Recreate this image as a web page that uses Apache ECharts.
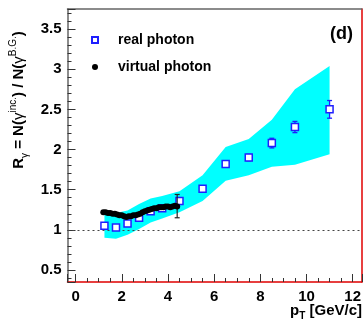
<!DOCTYPE html>
<html><head><meta charset="utf-8">
<script src="https://cdn.jsdelivr.net/npm/echarts@6/dist/echarts.min.js"></script>
<style>html,body{margin:0;padding:0;background:#fff}#c{width:364px;height:330px}</style>
</head><body><div id="c"></div>
<script>
// real photon (open blue squares)
const realX   = [1.25, 1.75, 2.25, 2.75, 3.25, 3.75, 4.5, 5.5, 6.5, 7.5, 8.5, 9.5, 11.0];
const realY   = [1.05, 1.03, 1.08, 1.15, 1.23, 1.27, 1.36, 1.51, 1.82, 1.90, 2.08, 2.28, 2.50];
const realErr = [0.01, 0.01, 0.01, 0.01, 0.01, 0.01, 0.02, 0.02, 0.03, 0.04, 0.06, 0.07, 0.11];
// virtual photon (black dots)
const virtX = [1.2,1.3,1.4,1.5,1.6,1.7,1.8,1.9,2.0,2.1,2.2,2.3,2.4,2.5,2.6,2.7,2.8,2.9,3.0,3.1,3.2,3.3,3.4,3.5,3.6,3.7,3.8,3.9,4.0,4.1,4.2,4.3,4.4];
const virtY = [1.22,1.22,1.21,1.21,1.20,1.20,1.19,1.18,1.18,1.17,1.16,1.17,1.17,1.18,1.18,1.19,1.20,1.22,1.23,1.24,1.25,1.26,1.27,1.27,1.28,1.28,1.28,1.29,1.29,1.28,1.29,1.30,1.29];
const virtErrX  = [4.4];
const virtErrLo = [1.15];
const virtErrHi = [1.44];
// systematic band (cyan)
const bandX  = [1.25, 1.75, 2.25, 2.75, 3.25, 3.75, 4.5, 5.5, 6.5, 7.5, 8.5, 9.5, 11.0];
const bandHi = [1.24, 1.21, 1.24, 1.32, 1.39, 1.42, 1.48, 1.68, 2.03, 2.13, 2.37, 2.75, 3.04];
const bandLo = [0.90, 0.89, 0.94, 1.01, 1.09, 1.14, 1.22, 1.36, 1.61, 1.68, 1.785, 1.81, 1.94];
const refLine = 1;

const FONT = "'Liberation Sans', Arial, Helvetica, sans-serif";
const BLUE = '#1f1fff';

const chart = echarts.init(document.getElementById('c'), null, {renderer: 'canvas'});
const option = {
  animation: false,
  backgroundColor: '#fff',
  grid: {left: 67.5, right: 1.5, top: 9, bottom: 48, containLabel: false},
  xAxis: [{
    type: 'value', min: -0.35, max: 12.4, splitNumber: 6, position: 'bottom',
    axisLine: {show: true, onZero: false, lineStyle: {color: '#e00000', width: 1.5}},
    axisTick: {show: true, inside: true, length: 8, lineStyle: {color: '#333'}},
    minorTick: {show: true, splitNumber: 4, length: 4, lineStyle: {color: '#333'}},
    splitLine: {show: false},
    axisLabel: {showMinLabel: false, showMaxLabel: false, margin: 7, color: '#000', fontFamily: FONT, fontWeight: 'bold', fontSize: 15}
  }, {
    type: 'value', min: -0.35, max: 12.4, position: 'top',
    axisLine: {show: true, onZero: false, lineStyle: {color: '#666', width: 1.5}},
    axisTick: {show: false}, axisLabel: {show: false}, splitLine: {show: false}
  }],
  yAxis: [{
    type: 'value', min: 0.35, max: 3.75, splitNumber: 7,
    axisLine: {show: true, onZero: false, lineStyle: {color: '#666', width: 1.5}},
    axisTick: {show: true, inside: true, length: 8, lineStyle: {color: '#333'}},
    minorTick: {show: true, splitNumber: 5, length: 4, lineStyle: {color: '#333'}},
    splitLine: {show: false},
    axisLabel: {showMinLabel: false, showMaxLabel: false, margin: 6, color: '#000', fontFamily: FONT, fontWeight: 'bold', fontSize: 15}
  }, {
    type: 'value', min: 0.35, max: 3.75, position: 'right',
    axisLine: {show: true, onZero: false, lineStyle: {color: '#e00000', width: 1.5}},
    axisTick: {show: false}, axisLabel: {show: false}, splitLine: {show: false}
  }],
  legend: {
    orient: 'vertical', left: 86, top: 27, itemWidth: 6, itemHeight: 6, itemGap: 11,
    textStyle: {fontFamily: FONT, fontWeight: 'bold', fontSize: 14, color: '#000', lineHeight: 16, padding: [0, 0, 0, 15]},
    data: ['real photon', 'virtual photon']
  },
  graphic: [
    {type: 'text', right: 11, top: 25, style: {text: '(d)', font: "bold 18px " + FONT, fill: '#000'}},
    {type: 'text', x: 19, y: 100, rotation: Math.PI / 2,
     style: {
       text: '{m|R}{sb|γ}{m| = N(}{g|γ}{sp|inc.}{m|) / N(}{g|γ}{sp|B.G.}{m|)}',
       align: 'center', verticalAlign: 'middle',
       rich: {
         m: {fontFamily: FONT, fontWeight: 'bold', fontSize: 15, fill: '#000', lineHeight: 22, verticalAlign: 'middle'},
         g: {fontFamily: FONT, fontSize: 15, fill: '#000', lineHeight: 22, verticalAlign: 'middle'},
         sb: {fontFamily: FONT, fontSize: 10, fill: '#000', verticalAlign: 'bottom', lineHeight: 22},
         sp: {fontFamily: FONT, fontSize: 10, fill: '#000', verticalAlign: 'top', lineHeight: 22}
       }
     }},
    {type: 'text', right: 2, top: 303,
     style: {
       text: '{m|p}{sb|T}{m| [GeV/c]}',
       rich: {
         m: {fontFamily: FONT, fontWeight: 'bold', fontSize: 15, fill: '#000', lineHeight: 22, verticalAlign: 'middle'},
         sb: {fontFamily: FONT, fontWeight: 'bold', fontSize: 10, fill: '#000', lineHeight: 22, verticalAlign: 'bottom'}
       }
     }}
  ],
  series: [
    {
      type: 'custom', name: 'band', z: 1, silent: true,
      data: [[bandX[0], bandHi[0]]],
      renderItem: function (params, api) {
        const pts = [];
        for (let i = 0; i < bandX.length; i++) pts.push(api.coord([bandX[i], bandHi[i]]));
        for (let i = bandX.length - 1; i >= 0; i--) pts.push(api.coord([bandX[i], bandLo[i]]));
        return {type: 'polygon', shape: {points: pts}, style: {fill: '#00ffff', stroke: null}};
      },
      markLine: {
        silent: true, symbol: 'none', z: 2,
        label: {show: false},
        lineStyle: {type: [2, 3], color: '#444', width: 1},
        data: [{yAxis: refLine}]
      }
    },
    {
      type: 'custom', name: 'realErr', z: 3, silent: true,
      data: realX.map((x, i) => [x, realY[i] - realErr[i], realY[i] + realErr[i]]),
      encode: {x: 0, y: [1, 2]},
      renderItem: function (params, api) {
        const x = api.value(0);
        const lo = api.coord([x, api.value(1)]);
        const hi = api.coord([x, api.value(2)]);
        const w = 2.5;
        const st = {stroke: BLUE, lineWidth: 1.3};
        return {type: 'group', children: [
          {type: 'line', shape: {x1: lo[0], y1: lo[1], x2: hi[0], y2: hi[1]}, style: st},
          {type: 'line', shape: {x1: lo[0] - w, y1: lo[1], x2: lo[0] + w, y2: lo[1]}, style: st},
          {type: 'line', shape: {x1: hi[0] - w, y1: hi[1], x2: hi[0] + w, y2: hi[1]}, style: st}
        ]};
      }
    },
    {
      type: 'scatter', name: 'real photon', z: 4, symbol: 'rect', symbolSize: 7,
      itemStyle: {color: '#fff', borderColor: BLUE, borderWidth: 1.5, opacity: 1},
      data: realX.map((x, i) => [x, realY[i]])
    },
    {
      type: 'scatter', name: 'virtual photon', z: 5, symbol: 'circle', symbolSize: 6,
      itemStyle: {color: '#000', opacity: 1},
      data: virtX.map((x, i) => [x, virtY[i]])
    },
    {
      type: 'custom', name: 'virtErr', z: 5, silent: true,
      data: virtErrX.map((x, i) => [x, virtErrLo[i], virtErrHi[i]]),
      encode: {x: 0, y: [1, 2]},
      renderItem: function (params, api) {
        const x = api.value(0);
        const lo = api.coord([x, api.value(1)]);
        const hi = api.coord([x, api.value(2)]);
        const w = 2.5;
        const st = {stroke: '#222', lineWidth: 1.2};
        return {type: 'group', children: [
          {type: 'line', shape: {x1: lo[0], y1: lo[1], x2: hi[0], y2: hi[1]}, style: st},
          {type: 'line', shape: {x1: lo[0] - w, y1: lo[1], x2: lo[0] + w, y2: lo[1]}, style: st},
          {type: 'line', shape: {x1: hi[0] - w, y1: hi[1], x2: hi[0] + w, y2: hi[1]}, style: st}
        ]};
      }
    }
  ]
};
chart.setOption(option);
</script>
</body></html>
